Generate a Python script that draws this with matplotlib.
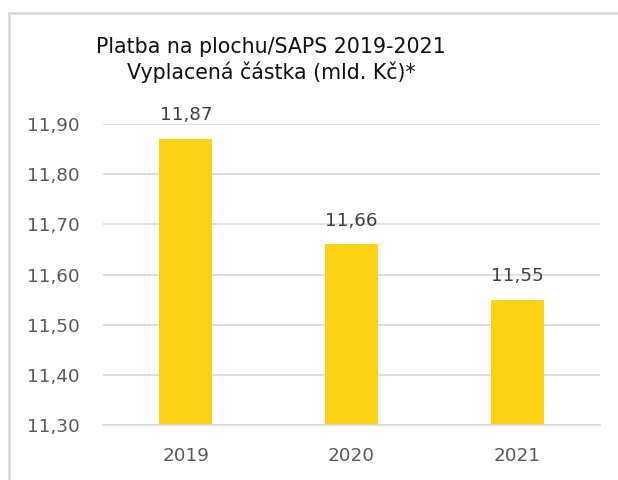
import numpy as np
import matplotlib.pyplot as plt
from matplotlib.patches import Rectangle

years = ['2019', '2020', '2021']
amounts = [11.87, 11.66, 11.55]
yticks = [11.30, 11.40, 11.50, 11.60, 11.70, 11.80, 11.90]
title = 'Platba na plochu/SAPS 2019-2021\nVyplacená částka (mld. Kč)*'

plt.rcParams['font.family'] = ['DejaVu Sans']

W, H = 618, 480
fig = plt.figure(figsize=(W / 100, H / 100), dpi=100)

# chart frame (only left and top edges visible in the reference)
fig.patches.append(Rectangle((9 / W, -0.1), 1.2, (H - 13) / H + 0.1, transform=fig.transFigure,
                             fill=False, edgecolor='#d9d9d9', linewidth=2))

# plot area in pixels
left, right, top, bottom = 103, 600, 124, 425
ax = fig.add_axes([left / W, 1 - bottom / H, (right - left) / W, (bottom - top) / H])

x = np.arange(len(years))
bars = ax.bar(x, amounts, width=0.32, color='#fcd116', zorder=2)
for xi, v in zip(x, amounts):
    ax.text(xi, v + 0.037, f'{v:.2f}'.replace('.', ','), ha='center', va='baseline',
            fontsize=13.2, color='#404040')

ax.set_xlim(-0.5, 2.5)
ax.set_ylim(11.30, 11.90)
ax.set_yticks(yticks)
ax.set_yticklabels([f'{t:.2f}'.replace('.', ',') for t in yticks])
ax.set_xticks(x)
ax.set_xticklabels(years)
ax.tick_params(axis='both', length=0, labelsize=13.2, labelcolor='#595959')
ax.tick_params(axis='y', pad=16.5)
ax.tick_params(axis='x', pad=16)
ax.grid(axis='y', color='#d9d9d9', linewidth=1.2, zorder=0)
for s in ['top', 'right', 'left']:
    ax.spines[s].set_visible(False)
ax.spines['bottom'].set_color('#d9d9d9')
ax.spines['bottom'].set_linewidth(1.2)

fig.text(271 / W, 1 - 60 / H, title, ha='center', va='center',
         fontsize=14.8, color='#111111', linespacing=1.25)

fig.savefig('out.png', dpi=100)
